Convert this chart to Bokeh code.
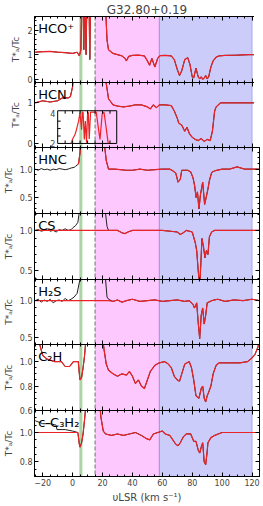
import numpy as np
from bokeh.plotting import figure
from bokeh.layouts import column
from bokeh.models import (Range1d, LinearAxis, BoxAnnotation, Span, Label,
                          FixedTicker, CustomJSTickFormatter)
from bokeh.embed import file_html
from bokeh.resources import INLINE

nan = float("nan")

# ---------------- shaded velocity intervals (km/s) ----------------
green_band = (4.5, 6.5)
dash_v = 15.0
magenta_band = (15.0, 58.0)
blue_band = (58.0, 120.0)

x_ticks = [-20, 0, 20, 40, 60, 80, 100, 120]
x_minor = list(range(-25, 126, 5))

# ---------------- HCO+ ----------------
hco_v = [-25, -20, -15, -10, -5, 0, 3, 4.5, 5.5, 6, 7, 7.5, 8, 8.5, 9, 9.5, 10, 11, 11.5, 12, 13,
         20, 22, 23, 24, 27, 30, 33, 35, 36, 37.5, 40, 44, 48, 50, 51.5, 53, 55, 57, 58.5, 62, 66,
         68, 70, 71.5, 73, 75, 77, 78.5, 80, 81, 82.5, 84, 85, 86, 87, 88, 89, 90, 91, 92.5, 94,
         96, 98, 102, 110, 118, 125]
hco_obs = [1.10, 1.12, 1.13, 1.10, 1.08, 1.05, 1.10, 0.95, 1.2, 3.0, 3.0, 1.2, 3.0, 3.0, 1.0, 3.0, 3.0, 3.0, 0.8, 3.0, 3.0,
           3.0, 3.0, 1.6, 1.2, 1.05, 1.0, 0.95, 0.85, 0.75, 0.93, 0.97, 0.98, 0.95, 0.75, 0.57, 0.85, 0.5, 0.87, 0.96, 0.97, 0.95,
           0.8, 0.4, 0.15, 0.35, 0.8, 0.88, 0.6, 0.1, 0.06, 0.45, 0.1, 0.02, 0.1, 0.0, 0.05, 0.15, 0.02, 0.1, 0.5, 0.75,
           0.9, 0.95, 0.97, 0.98, 1.0, 1.0]
hco_fit = hco_obs
hco_ticks, hco_minor = [0, 1, 2], [round(0.2 * i, 1) for i in range(-1, 14)]

# ---------------- HCN ----------------
hcn_v = [-25, -20, -15, -10, -7, -3, -1.5, 0, 1, 20, 22, 24, 27, 30, 34, 38, 42, 46, 50, 52, 54, 56, 58,
         62, 66, 68, 70, 71, 73, 75, 76.5, 78, 80, 82, 84, 86, 88, 90, 92, 93.5, 95, 96, 99, 110, 125]
hcn_obs = [1.0, 1.05, 1.02, 1.05, 1.12, 1.12, 1.15, 1.4, 2.0, 2.0, 1.6, 1.1, 0.95, 0.92, 0.9, 0.92, 0.95, 0.95, 0.9, 0.85, 0.95, 0.88, 0.95,
           0.95, 0.93, 0.8, 0.62, 0.5, 0.45, 0.3, 0.4, 0.25, 0.15, 0.1, 0.07, 0.12, 0.05, 0.1, 0.07, 0.3, 0.8, 0.9, 1.0, 1.0, 1.0]
hcn_fit = hcn_obs
hcn_ticks, hcn_minor = [0, 1], [round(0.2 * i, 1) for i in range(-1, 8)]

# HCN inset (zoom on the emission, y from 2 to 4.2)
inset_v = [-1, 0, 1.6, 2.5, 3.4, 4, 4.9, 6, 6.5, 7, 7.8, 8.5, 9.3, 10, 10.5, 11.1, 12, 12.7, 14,
           15.8, 17, 18.3, 19.8, 21, 22.5, 23.8]
inset_t = [2.0, 2.3, 2.6, 2.9, 3.27, 3.5, 4.05, 2.93, 4.1, 4.1, 2.27, 3.5, 2.05, 4.0, 4.1, 2.3, 4.1, 4.1, 4.1,
           4.1, 3.2, 2.27, 4.0, 4.1, 3.0, 2.0]
inset_xlim = (-10, 29.5)
inset_ylim = (2.0, 4.2)
inset_box_main = (0.0, 0.805)   # where the inset box sits on the HCN axis
inset_xticks = [-5, 0, 5, 10, 15, 20, 25]
inset_yticks = [2.5, 3.0, 3.5]

# ---------------- HNC ----------------
hnc_v = [-25, -23, -21, -19, -17, -15, -13, -11, -9, -7, -5, -3, -1, 1, 2, 3, 4, 5, 6, 20, 21, 22.5, 24, 28, 32,
         36, 40, 45, 50, 55, 60, 65, 67, 69, 70.5, 72, 73, 77, 79, 80.5, 81.6, 82.6, 83.5, 84.5, 85.5, 87,
         88.3, 89.3, 90.5, 91.5, 93, 95, 100, 105, 110, 115, 120, 125]
hnc_obs = [1.0, 0.98, 1.01, 0.99, 1.0, 0.98, 1.0, 0.99, 1.01, 1.0, 0.99, 1.0, 1.02, 1.03, 1.05, 1.07, 1.1, 1.3, 2.0, 2.0, 1.5, 1.15, 1.0, 1.0, 0.99,
           0.98, 0.98, 1.0, 0.98, 0.99, 1.0, 1.0, 0.97, 0.93, 0.77, 0.82, 0.98, 0.98, 0.95, 0.85, 0.71, 0.5, 0.6, 0.3, 0.55, 0.77,
           0.38, 0.5, 0.65, 0.8, 0.94, 0.97, 1.0, 1.0, 1.04, 1.0, 1.0, 1.0]
hnc_fit = [nan] * 15 + hnc_obs[15:]
hnc_ticks, hnc_minor = [0.5, 1.0], [round(0.1 * i, 1) for i in range(2, 15)]

# ---------------- CS ----------------
cs_v = [-25, -23, -21, -19, -17, -15, -13, -11, -9, -7, -5, -3, -1, 0, 2, 3.5, 5, 6, 20, 21.5, 23, 24, 30, 33,
        35, 37, 40, 50, 60, 70, 72, 74, 76, 80, 82, 83, 84, 85, 85.8, 86.5, 87.5, 88.5, 89.5, 90.5, 91.5, 93,
        95, 105, 115, 125]
cs_obs = [1.0, 1.01, 0.99, 1.0, 1.02, 0.99, 1.0, 0.98, 1.01, 1.0, 1.02, 1.0, 1.01, 1.03, 1.06, 1.1, 1.3, 2.0, 2.0, 1.3, 1.05, 1.0, 1.0, 0.97,
          0.96, 0.98, 1.0, 1.0, 1.0, 0.98, 0.95, 0.97, 1.0, 0.98, 0.85, 0.75, 0.5, 0.3, 0.6, 0.9, 0.8, 0.66, 0.75, 0.7, 0.92, 0.98,
          1.0, 1.0, 1.0, 1.0]
cs_fit = [1.0] * 22 + cs_obs[22:]
cs_ticks, cs_minor = [0.5, 1.0], [round(0.1 * i, 1) for i in range(3, 13)]

# ---------------- H2S ----------------
h2s_v = [-25, -23, -21, -19, -17, -15, -13, -11, -9, -7, -5, -3, -1, 1, 3, 5, 6, 21, 22, 23, 24, 27, 30, 33, 36,
         40, 45, 50, 55, 60, 65, 70, 75, 78, 80.5, 81.5, 83, 84, 85, 86, 87, 88, 89, 90, 93, 97, 102, 108, 114, 120, 125]
h2s_obs = [1.0, 1.02, 0.98, 1.01, 0.99, 1.02, 0.97, 1.0, 1.01, 0.99, 1.03, 1.0, 1.02, 1.05, 1.1, 1.3, 2.0, 2.0, 1.3, 1.05, 1.02, 0.99, 1.01, 0.98, 1.0,
           1.02, 0.99, 1.0, 1.01, 0.99, 1.0, 1.01, 0.99, 1.0, 0.95, 0.9, 0.97, 0.7, 0.48, 0.8, 0.9, 0.68, 0.8, 0.97, 1.0, 1.02, 0.99, 1.01, 1.0, 1.02, 1.0]
h2s_fit = [1.0] * 21 + h2s_obs[21:]
h2s_ticks, h2s_minor = [0.5, 1.0], [round(0.1 * i, 1) for i in range(4, 13)]

# ---------------- C2H ----------------
c2h_v = [-25, -22, -20, -17, -12, -7.5, -5, -2, 0.5, 3.8, 4.5, 5, 6, 7, 8, 9, 20, 21, 22.5, 24, 27, 30, 33, 36,
         38, 40, 42, 44, 46, 48, 50, 52, 55, 58, 61.5, 64, 66, 68, 70, 71.5, 73, 75, 78, 79.5, 81, 82.5, 84.5,
         86, 87, 88, 89, 90, 91, 92.5, 94, 96, 98, 105, 112, 117, 120, 122, 124, 125]
c2h_obs = [1.15, 1.14, 1.05, 1.02, 1.0, 1.0, 0.96, 0.96, 1.0, 1.0, 0.9, 0.85, 0.87, 0.95, 1.05, 1.2, 1.2, 1.1, 0.98, 0.93, 0.9, 0.88, 0.9, 0.89,
           0.92, 0.88, 0.82, 0.85, 0.8, 0.78, 0.85, 0.92, 0.97, 0.99, 1.0, 0.98, 0.95, 0.88, 0.85, 0.84, 0.9, 0.98, 1.0, 0.95, 0.85, 0.72, 0.7,
           0.78, 0.8, 0.7, 0.67, 0.72, 0.75, 0.8, 0.9, 0.97, 0.99, 0.99, 0.99, 1.0, 1.03, 1.06, 1.12, 1.2]
c2h_fit = c2h_obs
c2h_ticks, c2h_minor = [0.6, 0.8, 1.0], [round(0.05 * i, 2) for i in range(12, 23)]

# ---------------- c-C3H2 ----------------
cc3_v = [-25, -20, -15, -11, -10.5, -5, 0, 3.5, 4.5, 5, 6, 7, 8, 9, 18, 19, 20.5, 22, 26, 30, 34, 38, 42, 46, 49,
         51.6, 54, 57, 60, 62, 65, 67, 69, 70.5, 72, 74, 76, 79, 81, 82.5, 84, 85, 86, 87, 88, 89, 90, 90.5, 92.5,
         95, 100, 110, 125]
cc3_obs = [1.08, 1.06, 1.06, 1.05, 1.02, 1.02, 1.01, 1.0, 0.92, 0.9, 0.93, 0.99, 1.09, 1.2, 1.2, 1.1, 1.01, 0.99, 0.98, 0.99, 0.98, 0.99, 1.0, 0.98, 0.96,
           0.95, 0.99, 1.0, 1.01, 0.99, 0.98, 0.95, 0.92, 0.91, 0.93, 0.97, 0.99, 0.99, 0.94, 0.94, 0.88, 0.86, 0.9, 0.93, 0.8, 0.78, 0.87, 0.93, 0.965,
           0.98, 1.0, 1.0, 1.0]
cc3_fit = [1.0] * 8 + cc3_obs[8:]
cc3_ticks, cc3_minor = [0.8, 1.0], [round(0.05 * i, 2) for i in range(14, 24)]

panels = [
    ("HCO\u207a", hco_v, hco_obs, hco_fit, (-0.13, 2.55), hco_ticks, hco_minor, 0),
    ("HCN", hcn_v, hcn_obs, hcn_fit, (-0.1, 1.5), hcn_ticks, hcn_minor, 0),
    ("HNC", hnc_v, hnc_obs, hnc_fit, (0.22, 1.38), hnc_ticks, hnc_minor, 1),
    ("CS", cs_v, cs_obs, cs_fit, (0.39, 1.21), cs_ticks, cs_minor, 1),
    ("H\u2082S", h2s_v, h2s_obs, h2s_fit, (0.40, 1.29), h2s_ticks, h2s_minor, 1),
    ("C\u2082H", c2h_v, c2h_obs, c2h_fit, (0.6, 1.14), c2h_ticks, c2h_minor, 1),
    ("c-C\u2083H\u2082", cc3_v, cc3_obs, cc3_fit, (0.70, 1.15), cc3_ticks, cc3_minor, 1),
]

FONT = "DejaVu Sans"
RED = "#ec2326"
frame_heights = [66, 65, 66, 66, 65, 66, 66]
OVERLAP = 6
x_range = Range1d(-25.5, 125)


def style_axis(ax, labels=True):
    ax.major_tick_in = 4
    ax.major_tick_out = 0
    ax.minor_tick_in = 2
    ax.minor_tick_out = 0
    ax.axis_line_color = "black"
    ax.major_tick_line_color = "black"
    ax.minor_tick_line_color = "black"
    ax.major_label_text_font = FONT
    if labels:
        ax.major_label_text_font_size = "8px"
        ax.major_label_standoff = 2
    else:
        ax.major_label_text_font_size = "0px"
        ax.major_label_text_color = None
        ax.major_label_standoff = 0


figs = []
n = len(panels)
for i, (name, v, obs, fit, ylim, yt, ym, prec) in enumerate(panels):
    first = i == 0
    last = i == n - 1
    p = figure(frame_width=225, frame_height=frame_heights[i], x_range=x_range,
               y_range=Range1d(*ylim), output_backend="svg", toolbar_location=None,
               min_border_left=28, min_border_right=1, min_border_top=0,
               min_border_bottom=0 if last else OVERLAP, background_fill_color="white",
               border_fill_color="white", border_fill_alpha=0, outline_line_color="black")
    if not first:
        p.styles = {"margin-top": "-%dpx" % OVERLAP}
    p.grid.visible = False
    if first:
        p.title.text = "G32.80+0.19"
        p.title.align = "center"
        p.title.text_font = FONT
        p.title.text_font_size = "12px"
        p.title.text_font_style = "normal"
        p.title.standoff = 0
        p.title.offset = 0

    p.xaxis.ticker = FixedTicker(ticks=x_ticks, minor_ticks=x_minor)
    p.yaxis.ticker = FixedTicker(ticks=yt, minor_ticks=ym)
    p.yaxis.formatter = CustomJSTickFormatter(code="return tick.toFixed(%d)" % prec)
    for ax in p.xaxis:
        style_axis(ax, labels=last)
    for ax in p.yaxis:
        style_axis(ax, labels=True)
    p.yaxis.axis_label = "T*\u2090/Tc"
    p.yaxis.axis_label_text_font = FONT
    p.yaxis.axis_label_text_font_size = "9px"
    p.yaxis.axis_label_text_font_style = "normal"
    p.yaxis.axis_label_standoff = 3
    if last:
        p.xaxis.axis_label = "\u03c5LSR (km s\u207b\u00b9)"
        p.xaxis.axis_label_text_font = FONT
        p.xaxis.axis_label_text_font_size = "10px"
        p.xaxis.axis_label_text_font_style = "normal"
        p.xaxis.axis_label_standoff = 3

    top_ax = LinearAxis(ticker=FixedTicker(ticks=x_ticks, minor_ticks=x_minor))
    style_axis(top_ax, labels=False)
    p.add_layout(top_ax, "above")
    right_ax = LinearAxis(ticker=FixedTicker(ticks=yt, minor_ticks=ym))
    style_axis(right_ax, labels=False)
    p.add_layout(right_ax, "right")

    # shaded ranges
    p.add_layout(BoxAnnotation(left=magenta_band[0], right=magenta_band[1], fill_color="#fdc8fd",
                               fill_alpha=1, line_color=None, level="underlay"))
    p.add_layout(BoxAnnotation(left=blue_band[0], right=blue_band[1], fill_color="#ccccfa",
                               fill_alpha=1, line_color=None, level="underlay"))
    p.add_layout(BoxAnnotation(left=green_band[0], right=green_band[1], fill_color="#a9d6a2",
                               fill_alpha=1, line_color=None, level="underlay"))
    p.add_layout(Span(location=blue_band[0], dimension="height", line_color="#a58ae8",
                      line_width=1, level="underlay"))
    p.add_layout(Span(location=blue_band[1], dimension="height", line_color="#a8a8f0",
                      line_width=1, level="underlay"))
    p.add_layout(Span(location=dash_v, dimension="height", line_color="#707070",
                      line_dash="4 2", line_width=1, level="underlay"))

    p.line(v, obs, line_color="#222222", line_width=1)
    p.line(v, fit, line_color=RED, line_width=1.2)

    frac = 0.18
    p.add_layout(Label(x=-23, y=ylim[1] - frac * (ylim[1] - ylim[0]), text=name,
                       text_font=FONT, text_font_size="13px", text_baseline="middle",
                       text_color="black"))

    if name == "HCN":
        # inset axis mapped onto the HCN panel
        k = (inset_ylim[1] - inset_ylim[0]) / (inset_box_main[1] - inset_box_main[0])
        p.extra_y_ranges = {"inset": Range1d(inset_ylim[0] + k * (ylim[0] - inset_box_main[0]),
                                             inset_ylim[0] + k * (ylim[1] - inset_box_main[0]))}
        p.quad(left=[inset_xlim[0]], right=[inset_xlim[1]], bottom=[inset_ylim[0]],
               top=[inset_ylim[1]], fill_color=None, line_color="black", line_width=1,
               y_range_name="inset")
        p.line(inset_v, inset_t, line_color=RED, line_width=1.2, y_range_name="inset")
        tlen_y = 0.2
        tlen_x = 2.0
        p.segment(x0=inset_xticks, x1=inset_xticks, y0=[inset_ylim[0]] * len(inset_xticks),
                  y1=[inset_ylim[0] + tlen_y] * len(inset_xticks), line_color="black",
                  y_range_name="inset")
        p.segment(x0=inset_xticks, x1=inset_xticks, y0=[inset_ylim[1]] * len(inset_xticks),
                  y1=[inset_ylim[1] - tlen_y] * len(inset_xticks), line_color="black",
                  y_range_name="inset")
        p.segment(x0=[inset_xlim[0]] * len(inset_yticks), x1=[inset_xlim[0] + tlen_x] * len(inset_yticks),
                  y0=inset_yticks, y1=inset_yticks, line_color="black", y_range_name="inset")
        for val in (4, 2):
            p.add_layout(Label(x=inset_xlim[0] - 1.5, y=val, text=str(val), text_font=FONT,
                               text_font_size="8px", text_align="right", text_baseline="middle",
                               y_range_name="inset"))
    figs.append(p)

layout = column(*figs, spacing=0)
open("out.html", "w").write(file_html(layout, INLINE))
